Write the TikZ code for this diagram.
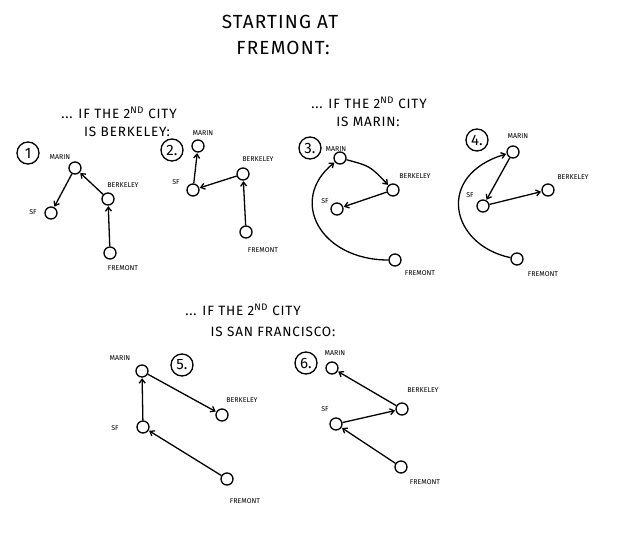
\documentclass[tikz,border=0pt]{standalone}
\usepackage{fontspec}
\setmainfont{Fira Sans}
\usetikzlibrary{arrows.meta}
\tikzset{
  city/.style={circle, draw, line width=1.3pt, minimum size=12pt, inner sep=0pt},
  tag/.style={font=\fontsize{7}{8}\selectfont, inner sep=1pt},
  num/.style={circle, draw, line width=1.3pt, minimum size=22pt, inner sep=0pt,
    font=\fontsize{15}{16}\selectfont},
  edge/.style={-{Straight Barb[length=4pt,width=6pt]}, line width=1.3pt, shorten >=0.5pt},
  title/.style={font=\fontsize{19}{22}\selectfont\addfontfeatures{LetterSpace=6}},
  head/.style={font=\fontsize{13.5}{15}\selectfont\addfontfeatures{LetterSpace=6}}
}
\newcommand{\nd}{2\textsuperscript{ND}}
\begin{document}
\begin{tikzpicture}[x=1pt, y=-1pt]
  \useasboundingbox (0,0) rectangle (640,536);
  % titles
  \node[title] (t1) at (280,22) {STARTING AT};
  \node[title] (t2) at (283,48) {FREMONT:};
  \node[head] (h1a) at (119,113) {... IF THE \nd\ CITY};
  \node[head] (h1b) at (127,132) {IS BERKELEY:};
  \node[head] (h2a) at (369,103) {... IF THE \nd\ CITY};
  \node[head] (h2b) at (368,122) {IS MARIN:};
  \node[head] (h3a) at (243,310) {... IF THE \nd\ CITY};
  \node[head] (h3b) at (273,332) {IS SAN FRANCISCO:};
  % 1
  \node[num] (n1) at (28,153) {1};
  \node[city] (mar1) at (75,168) {};
  \node[city] (ber1) at (108,199) {};
  \node[city] (sf1) at (51,213) {};
  \node[city] (fre1) at (110,253) {};
  \node[tag] (tmar1) at (60,157) {MARIN};
  \node[tag] (tber1) at (123,185) {BERKELEY};
  \node[tag] (tsf1) at (33,212) {SF};
  \node[tag] (tfre1) at (123,268) {FREMONT};
  \draw[edge] (fre1) -- (ber1);
  \draw[edge] (ber1) -- (mar1);
  \draw[edge] (mar1) -- (sf1);
  % 2
  \node[num] (n2) at (172,150) {2.};
  \node[city] (mar2) at (198,146) {};
  \node[city] (ber2) at (243,174) {};
  \node[city] (sf2) at (193,190) {};
  \node[city] (fre2) at (246,232) {};
  \node[tag] (tmar2) at (203,133) {MARIN};
  \node[tag] (tber2) at (258,159) {BERKELEY};
  \node[tag] (tsf2) at (176,182) {SF};
  \node[tag] (tfre2) at (263,250) {FREMONT};
  \draw[edge] (fre2) -- (ber2);
  \draw[edge] (ber2) -- (sf2);
  \draw[edge] (sf2) -- (mar2);
  % 3
  \node[num] (n3) at (310,148) {3.};
  \node[city] (mar3) at (340,158) {};
  \node[city] (ber3) at (393,190) {};
  \node[city] (sf3) at (337,209) {};
  \node[city] (fre3) at (395,260) {};
  \node[tag] (tmar3) at (336,149) {MARIN};
  \node[tag] (tber3) at (415,176) {BERKELEY};
  \node[tag] (tsf3) at (325,201) {SF};
  \node[tag] (tfre3) at (420,273) {FREMONT};
  \draw[edge] (fre3) .. controls (320,260) and (288,200) .. (mar3);
  \draw[edge] (mar3) .. controls (370,166) .. (ber3);
  \draw[edge] (ber3) -- (sf3);
  % 4
  \node[num] (n4) at (477,140) {4.};
  \node[city] (mar4) at (513,152) {};
  \node[city] (ber4) at (548,190) {};
  \node[city] (sf4) at (483,206) {};
  \node[city] (fre4) at (517,259) {};
  \node[tag] (tmar4) at (518,136) {MARIN};
  \node[tag] (tber4) at (573,177) {BERKELEY};
  \node[tag] (tsf4) at (470,195) {SF};
  \node[tag] (tfre4) at (543,274) {FREMONT};
  \draw[edge] (fre4) .. controls (450,245) and (435,175) .. (mar4);
  \draw[edge] (mar4) -- (sf4);
  \draw[edge] (sf4) -- (ber4);
  % 5
  \node[num] (n5) at (182,365) {5.};
  \node[city] (mar5) at (142,371) {};
  \node[city] (ber5) at (222,415) {};
  \node[city] (sf5) at (143,427) {};
  \node[city] (fre5) at (227,479) {};
  \node[tag] (tmar5) at (120,358) {MARIN};
  \node[tag] (tber5) at (242,400) {BERKELEY};
  \node[tag] (tsf5) at (115,428) {SF};
  \node[tag] (tfre5) at (245,501) {FREMONT};
  \draw[edge] (fre5) -- (sf5);
  \draw[edge] (sf5) -- (mar5);
  \draw[edge] (mar5) -- (ber5);
  % 6
  \node[num] (n6) at (306,363) {6.};
  \node[city] (mar6) at (332,368) {};
  \node[city] (ber6) at (402,409) {};
  \node[city] (sf6) at (336,424) {};
  \node[city] (fre6) at (401,467) {};
  \node[tag] (tmar6) at (335,353) {MARIN};
  \node[tag] (tber6) at (423,390) {BERKELEY};
  \node[tag] (tsf6) at (325,409) {SF};
  \node[tag] (tfre6) at (425,482) {FREMONT};
  \draw[edge] (fre6) -- (sf6);
  \draw[edge] (sf6) -- (ber6);
  \draw[edge] (ber6) -- (mar6);
\end{tikzpicture}
\end{document}
